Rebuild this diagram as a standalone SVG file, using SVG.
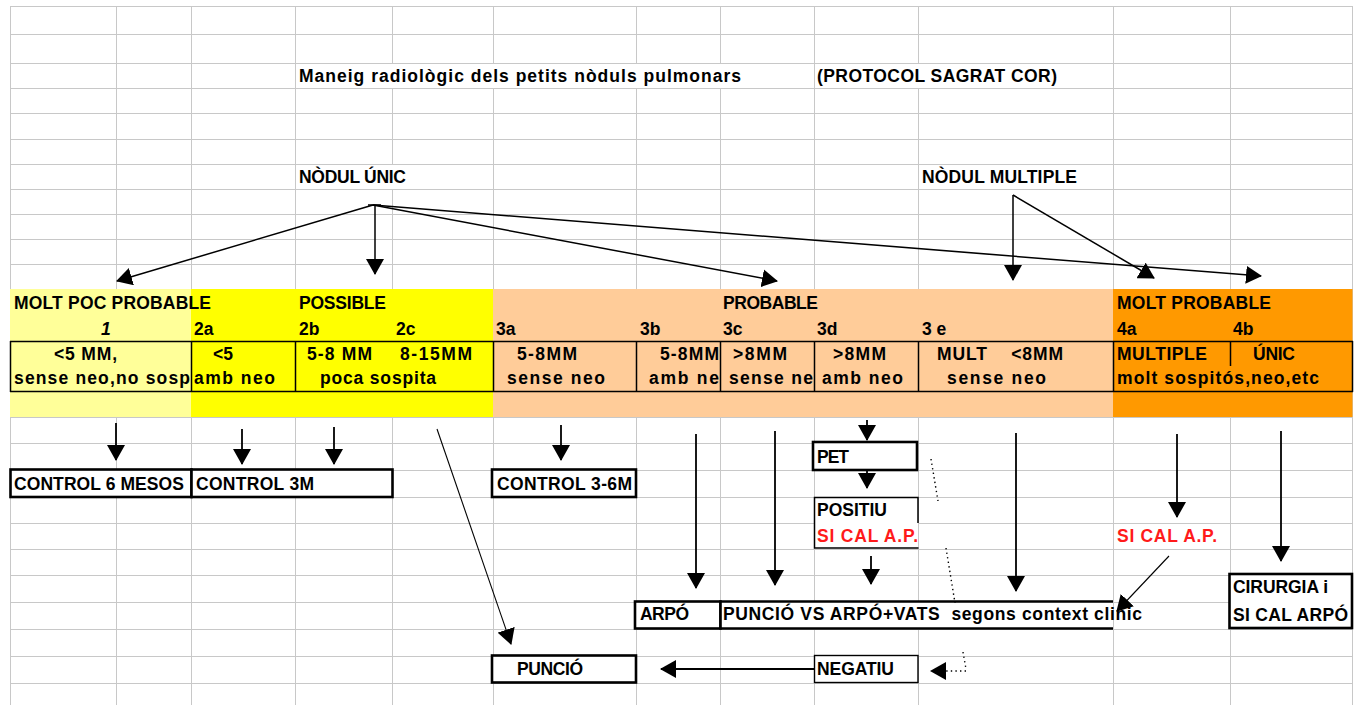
<svg xmlns="http://www.w3.org/2000/svg" width="1358" height="705" viewBox="0 0 1358 705">
<style>
.g{stroke:#c8c8c8;stroke-width:1;fill:none}
text{font-family:"Liberation Sans",Arial,sans-serif;font-weight:bold;font-size:17.5px;fill:#000}
.r{fill:#ff1a1a}
.it{font-style:italic}
.pre{white-space:pre}
.bx{fill:#fff;stroke:#000;stroke-width:2.6}
.bt{fill:#fff;stroke:#000;stroke-width:1.4}
.wh{fill:#fff;stroke:none}
.tb{stroke:#000;stroke-width:1.5;fill:none}
.c{stroke:#000;stroke-width:1.5;fill:none}
.c2{stroke:#000;stroke-width:1.8;fill:none}
.cth{stroke:#000;stroke-width:1.1;fill:none}
.dot{stroke:#000;stroke-width:1.4;fill:none;stroke-dasharray:1.4 3.2}
</style>
<defs>
<marker id="ah" markerUnits="userSpaceOnUse" viewBox="0 0 16 18" refX="15" refY="9" markerWidth="16" markerHeight="18" orient="auto"><path d="M0,0 L16,9 L0,18 z" fill="#000"/></marker>
</defs>
<rect x="0" y="0" width="1358" height="705" fill="#fff"/>
<g id="grid">
<path class="g" d="M10,6.5H1352.5M10,34.5H1352.5M10,63.5H1352.5M10,88.5H1352.5M10,113.5H1352.5M10,139.5H1352.5M10,164.5H1352.5M10,189.5H1352.5M10,214.5H1352.5M10,239.5H1352.5M10,264.5H1352.5M10,289.5H1352.5M10,417.5H1352.5M10,443.5H1352.5M10,470.5H1352.5M10,497.5H1352.5M10,523.5H1352.5M10,549.5H1352.5M10,575.5H1352.5M10,602.5H1352.5M10,629.5H1352.5M10,656.5H1352.5M10,683.5H1352.5"/>
<path class="g" d="M10.5,6V705M116.5,6V705M191.5,6V705M295.5,6V705M392.5,6V705M493.5,6V705M636.5,6V705M720.5,6V705M814.5,6V705M918.5,6V705M1113.5,6V705M1230.5,6V705M1352.5,6V705"/>
<rect class="wh" x="296.5" y="64" width="517" height="24"/>
<rect class="wh" x="815.5" y="64" width="297" height="24"/>
<rect class="wh" x="296.5" y="165" width="195.5" height="24"/>
<rect class="wh" x="1114" y="603" width="116" height="26"/>
</g>
<g id="bands">
<rect x="10" y="289" width="181" height="128" fill="#ffff99"/>
<rect x="191" y="289" width="302" height="128" fill="#ffff00"/>
<rect x="493" y="289" width="620" height="128" fill="#ffcc99"/>
<rect x="1113" y="289" width="239.5" height="128" fill="#ff9900"/>
<path class="tb" d="M10,341.5H1353M10,391.5H1353M10.5,341V392M191.5,341V392M295.5,341V392M493.5,341V392M636.5,341V392M720.5,341V392M814.5,341V392M918.5,341V392M1113.5,341V392M1352.5,341V392M1230.5,341V366"/>
</g>
<g id="title">
<text x="299" y="82" textLength="442">Maneig radiològic dels petits nòduls pulmonars</text>
<text x="817" y="82" textLength="240">(PROTOCOL SAGRAT COR)</text>
</g>
<g id="nodul-unic"><text x="299" y="183" textLength="107">NÒDUL ÚNIC</text></g>
<g id="nodul-multiple"><text x="922" y="183" textLength="155">NÒDUL MULTIPLE</text></g>
<g id="cat-molt-poc">
<text x="14" y="309" textLength="197">MOLT POC PROBABLE</text>
<text class="it" x="101" y="335">1</text>
<text x="54" y="360" textLength="63">&lt;5 MM,</text>
<text x="14" y="384" textLength="176">sense neo,no sosp</text>
</g>
<g id="cat-possible">
<text x="299" y="309" textLength="87">POSSIBLE</text>
<text x="194" y="335">2a</text>
<text x="299" y="335">2b</text>
<text x="396" y="335">2c</text>
<text x="213" y="360">&lt;5</text>
<text x="194" y="384" textLength="81">amb neo</text>
<text x="307" y="360" textLength="65">5-8 MM</text>
<text x="400" y="360" textLength="72">8-15MM</text>
<text x="320" y="384" textLength="116">poca sospita</text>
</g>
<g id="cat-probable">
<text x="723" y="309" textLength="95">PROBABLE</text>
<text x="496" y="335">3a</text>
<text x="640" y="335">3b</text>
<text x="723" y="335">3c</text>
<text x="817" y="335">3d</text>
<text x="922" y="335" class="pre">3 e</text>
<text x="517" y="360" textLength="60">5-8MM</text>
<text x="507" y="384" textLength="98">sense neo</text>
<text x="660" y="360" textLength="59">5-8MM</text>
<text x="649" y="384" textLength="70">amb ne</text>
<text x="733" y="360" textLength="54">&gt;8MM</text>
<text x="729" y="384" textLength="84">sense ne</text>
<text x="833" y="360" textLength="53">&gt;8MM</text>
<text x="822" y="384" textLength="81">amb neo</text>
<text x="937" y="360" class="pre" textLength="126">MULT    &lt;8MM</text>
<text x="947" y="384" textLength="99">sense neo</text>
</g>
<g id="cat-molt-probable">
<text x="1117" y="309" textLength="154">MOLT PROBABLE</text>
<text x="1117" y="335">4a</text>
<text x="1233" y="335">4b</text>
<text x="1117" y="360" textLength="90">MULTIPLE</text>
<text x="1253" y="360" textLength="42">ÚNIC</text>
<text x="1117" y="384" textLength="202">molt sospitós,neo,etc</text>
</g>
<g id="control-6m"><rect class="bx" x="10.5" y="469.5" width="181" height="27.5"/><text x="14" y="490" textLength="170">CONTROL 6 MESOS</text></g>
<g id="control-3m"><rect class="bx" x="191.5" y="469.5" width="201" height="27.5"/><text x="196" y="490" textLength="118">CONTROL 3M</text></g>
<g id="control-3-6m"><rect class="bx" x="492" y="469.5" width="144" height="27.5"/><text x="497" y="490" textLength="135">CONTROL 3-6M</text></g>
<g id="pet"><rect class="bx" x="813" y="442" width="104" height="28"/><text x="817" y="463" textLength="32">PET</text></g>
<g id="positiu"><rect class="wh" x="814" y="497" width="104" height="51"/><path class="tb" d="M918,523V497.5H814.5V548H918.5"/><text x="817" y="516" textLength="70">POSITIU</text><text class="r" x="817" y="542" textLength="101">SI CAL A.P.</text></g>
<g id="arpo"><rect class="bx" x="635" y="601.5" width="85.5" height="27"/><text x="640" y="620" textLength="49">ARPÓ</text></g>
<g id="puncio-vs"><rect class="wh" x="721" y="602" width="392" height="26"/><path class="bx" d="M1113,601.5H720.5V628.5H1113"/><text x="723" y="620" class="pre" textLength="419">PUNCIÓ VS ARPÓ+VATS  segons context clinic</text></g>
<g id="puncio"><rect class="bx" x="492" y="655.5" width="144" height="27"/><text x="517" y="675" textLength="66">PUNCIÓ</text></g>
<g id="negatiu"><rect class="bt" x="814.5" y="655.5" width="103.5" height="27"/><text x="817" y="675" textLength="77">NEGATIU</text></g>
<g id="si-cal-4a"><text class="r" x="1117" y="542" textLength="100">SI CAL A.P.</text></g>
<g id="cirurgia"><rect class="bx" x="1229.5" y="574" width="122.5" height="54"/><text x="1233" y="593" textLength="95">CIRURGIA i</text><text x="1233" y="621" textLength="115">SI CAL ARPÓ</text></g>
<g id="connectors">
<path class="c" marker-end="url(#ah)" d="M373,205L117,281"/>
<path class="c" marker-end="url(#ah)" d="M375,205V274"/>
<path class="c" marker-end="url(#ah)" d="M373,205L777,281"/>
<path class="c" marker-end="url(#ah)" d="M373,205L1261,276"/>
<path class="c" d="M368,205H381"/>
<path class="c" marker-end="url(#ah)" d="M1013,195V280"/>
<path class="c" marker-end="url(#ah)" d="M1013,195L1154,278"/>
<path class="c2" marker-end="url(#ah)" d="M116,423V460"/>
<path class="c2" marker-end="url(#ah)" d="M242,429V464"/>
<path class="c2" marker-end="url(#ah)" d="M334,427V464"/>
<path class="cth" marker-end="url(#ah)" d="M437,429L511,644"/>
<path class="c2" marker-end="url(#ah)" d="M561,425V460"/>
<path class="c2" marker-end="url(#ah)" d="M696,434V588"/>
<path class="c2" marker-end="url(#ah)" d="M775,431V585"/>
<path class="c2" marker-end="url(#ah)" d="M867,420V440"/>
<path class="c2" marker-end="url(#ah)" d="M867,471V488"/>
<path class="c2" marker-end="url(#ah)" d="M871,556V584"/>
<path class="c2" marker-end="url(#ah)" d="M1016,433V591"/>
<path class="c2" marker-end="url(#ah)" d="M1177,434V517"/>
<path class="c2" marker-end="url(#ah)" d="M1281,431V561"/>
<path class="cth" marker-end="url(#ah)" d="M1169,556L1117,611"/>
<path class="c2" marker-end="url(#ah)" d="M814,669H661"/>
<path class="dot" d="M931,459L938,501"/>
<path class="dot" d="M946,548L955,603"/>
<path class="dot" d="M963,652L966,669"/>
<path class="dot" marker-end="url(#ah)" d="M966,671H931"/>
</g>
</svg>
